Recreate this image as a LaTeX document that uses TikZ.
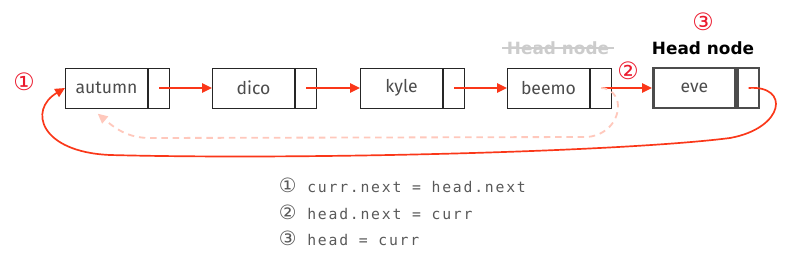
\documentclass[tikz,border=0pt]{standalone}
\usepackage{fontspec}
\setmainfont{Fira Sans}
\newfontfamily\symfont{DejaVu Sans}
\newfontfamily\codefont[LetterSpace=12]{DejaVu Sans Mono}
\usetikzlibrary{arrows.meta}

\definecolor{linkred}{RGB}{250,55,25}
\definecolor{oldlink}{RGB}{255,200,188}
\definecolor{numred}{RGB}{235,25,45}

\begin{document}
\begin{tikzpicture}[x=0.025cm, y=-0.025cm,
    cell/.style={draw=black!85, line width=0.7pt, minimum width=2.05cm, minimum height=1cm,
        inner sep=0pt, text=black!70, font=\fontsize{12.5}{14}\selectfont},
    ptr/.style={cell, minimum width=0.525cm},
    headcell/.style={draw=black!70, line width=1.9pt},
    link/.style={linkred, line width=1.2pt, -{Triangle[length=7pt,width=6.5pt]}},
    stepnum/.style={numred, font=\symfont\fontsize{17}{18}\selectfont},
    codeline/.style={anchor=west, text=black!65, font=\codefont\fontsize{10.5}{12}\selectfont}]
    \useasboundingbox (0,0) rectangle (800,262);

    % list nodes
    \node[cell, anchor=west] (autumn) at (65,88) {autumn};
    \node[ptr, anchor=west] (autumnp) at (autumn.east) {};
    \node[cell, anchor=west] (dico) at (212,88) {dico};
    \node[ptr, anchor=west] (dicop) at (dico.east) {};
    \node[cell, anchor=west] (kyle) at (360,88) {kyle};
    \node[ptr, anchor=west] (kylep) at (kyle.east) {};
    \node[cell, anchor=west] (beemo) at (507,88) {beemo};
    \node[ptr, anchor=west] (beemop) at (beemo.east) {};
    \node[cell, headcell, anchor=west] (eve) at (652,88) {eve};
    \node[ptr, headcell, anchor=west] (evep) at (eve.east) {};

    % head labels
    \node[black!20, font=\symfont\bfseries\fontsize{12}{14}\selectfont] (oldhead) at (558,48) {Head node};
    \draw[black!20, line width=1.2pt] (oldhead.west) -- (oldhead.east);
    \node[font=\symfont\bfseries\fontsize{12}{14}\selectfont] (newhead) at (703,48) {Head node};

    % links
    \draw[link] (autumnp.center) -- (dico.west);
    \draw[link] (dicop.center) -- (kyle.west);
    \draw[link] (kylep.center) -- (beemo.west);
    \draw[link] (beemop.center) -- (eve.west);

    % old link, now dropped
    \draw[oldlink, line width=1.3pt, dash pattern=on 4.5pt off 3.5pt, -{Triangle[length=7pt,width=6.5pt]}]
        (beemop.center) to[out=0,in=90] (618,106) to[out=-90,in=0] (585,137)
        -- (150,138) to[out=180,in=-40] ([xshift=-0.22cm,yshift=-0.13cm]autumn.south);

    % new link
    \draw[link] (evep.center) .. controls (790,85) and (785,128) .. (730,138)
        .. controls (620,152) and (300,160) .. (110,155)
        .. controls (40,152) and (28,110) .. (autumn.west);

    % step marks
    \node[stepnum] (n1) at (24,82) {①};
    \node[stepnum] (n2) at (628,71) {②};
    \node[stepnum] (n3) at (703,22) {③};

    % steps
    \node[codeline] (line1) at (274,185) {{\symfont\fontsize{14}{12}\selectfont ①} curr.next = head.next};
    \node[codeline] (line2) at (274,212) {{\symfont\fontsize{14}{12}\selectfont ②} head.next = curr};
    \node[codeline] (line3) at (274,238) {{\symfont\fontsize{14}{12}\selectfont ③} head = curr};
\end{tikzpicture}
\end{document}
